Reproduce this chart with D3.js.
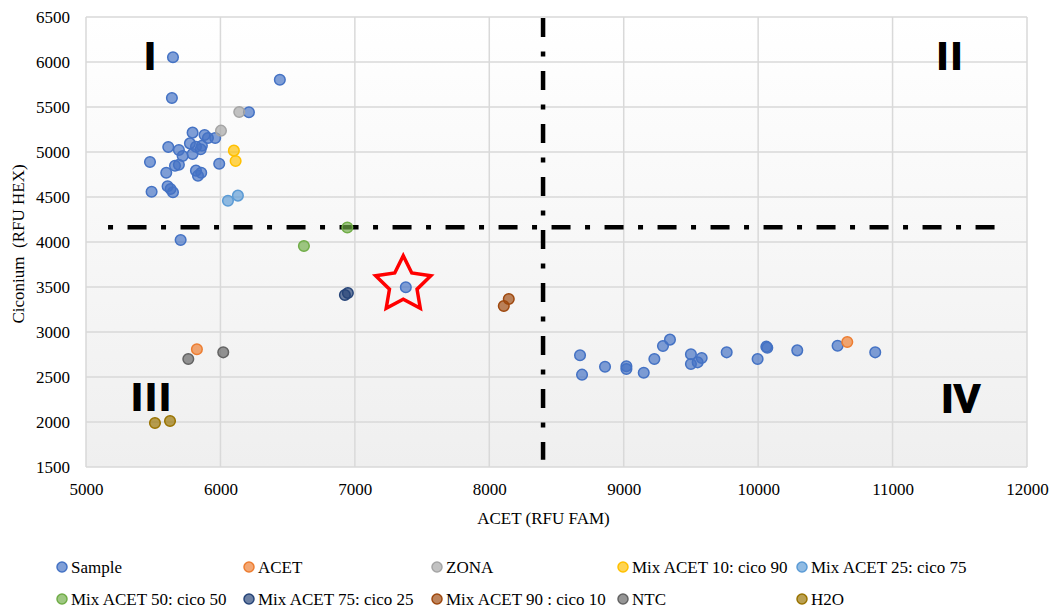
<!DOCTYPE html>
<html>
<head>
<meta charset="utf-8">
<script src="https://cdn.jsdelivr.net/npm/d3@7"></script>
<style>
  body { margin: 0; background: #fff; }
  .quad { font-family: "Liberation Sans", Arial, sans-serif; font-weight: bold; stroke: #000; stroke-width: 1.8; }
</style>
</head>
<body>
<div id="chart"></div>
<script>
// ---- data ----
var xTicks = [5000, 6000, 7000, 8000, 9000, 10000, 11000, 12000];
var yTicks = [1500, 2000, 2500, 3000, 3500, 4000, 4500, 5000, 5500, 6000, 6500];

var seriesNames = ["Sample", "ACET", "ZONA", "Mix ACET 10: cico 90", "Mix ACET 25: cico 75",
                   "Mix ACET 50: cico 50", "Mix ACET 75: cico 25", "Mix ACET 90 : cico 10", "NTC", "H2O"];

var samplePts = [
  [5647, 6052], [6442, 5803], [5639, 5600], [6212, 5441], [5793, 5215], [5882, 5189],
  [5907, 5156], [5961, 5156], [5612, 5056], [5773, 5096], [5818, 5059], [5862, 5070],
  [5853, 5030], [5691, 5022], [5719, 4956], [5793, 4978], [5476, 4889], [5991, 4870],
  [5691, 4859], [5662, 4848], [5597, 4770], [5818, 4793], [5857, 4770], [5833, 4737],
  [5488, 4559], [5607, 4619], [5629, 4589], [5647, 4552], [5704, 4022], [7379, 3497],
  [8675, 2741], [8690, 2526], [8861, 2614], [9020, 2619], [9020, 2589], [9149, 2548],
  [9228, 2700], [9292, 2844], [9344, 2915], [9500, 2752], [9500, 2644], [9550, 2663],
  [9580, 2711], [9766, 2774], [9996, 2700], [10061, 2837], [10068, 2826], [10291, 2796],
  [10591, 2848], [10871, 2774]
];
var acetPts   = [[5825, 2808], [10663, 2889]];
var zonaPts   = [[6140, 5444], [6004, 5237]];
var mix10Pts  = [[6100, 5015], [6113, 4900]];
var mix25Pts  = [[6056, 4459], [6130, 4515]];
var mix50Pts  = [[6621, 3956], [6944, 4161]];
var mix75Pts  = [[6926, 3411], [6948, 3433]];
var mix90Pts  = [[8108, 3289], [8145, 3367]];
var ntcPts    = [[5761, 2700], [6021, 2774]];
var h2oPts    = [[5513, 1989], [5625, 2011]];

// quadrant cut lines and labels
var cutX = 8400, cutY = 4163;
var quadLabels = [
  {t: "I",   x: 5491,  y: 5922},
  {t: "II",  x: 11439, y: 5922},
  {t: "III", x: 5498,  y: 2133},
  {t: "IV",  x: 11513, y: 2111}
];
var highlight = {x: 7360, y: 3525};

// excel palette
var colors = ["#4472c4", "#ed7d31", "#a5a5a5", "#ffc000", "#5b9bd5",
              "#70ad47", "#264478", "#9e480e", "#636363", "#997300"];

var allSeries = [samplePts, acetPts, zonaPts, mix10Pts, mix25Pts,
                 mix50Pts, mix75Pts, mix90Pts, ntcPts, h2oPts];

var serif = "'Liberation Serif', 'DejaVu Serif', 'Times New Roman', serif";

// ---- layout ----
var margin = {top: 17, right: 29, bottom: 143, left: 86};
var width = 1056 - margin.left - margin.right;
var height = 610 - margin.top - margin.bottom;

var svgRoot = d3.select("#chart").append("svg")
    .attr("width", 1056)
    .attr("height", 610);

var defs = svgRoot.append("defs");
var grad = defs.append("linearGradient")
    .attr("id", "bg").attr("x1", 0).attr("y1", 0).attr("x2", 0).attr("y2", 1);
grad.append("stop").attr("offset", "0%").attr("stop-color", "#ffffff");
grad.append("stop").attr("offset", "100%").attr("stop-color", "#efefef");

var svg = svgRoot.append("g")
    .attr("transform", "translate(" + margin.left + "," + margin.top + ")");

var x = d3.scaleLinear().domain([5000, 12000]).range([0, width]);
var y = d3.scaleLinear().domain([1500, 6500]).range([height, 0]);

// plot background
svg.append("rect")
    .attr("width", width)
    .attr("height", height)
    .attr("fill", "url(#bg)");

// gridlines
svg.append("g")
  .selectAll("line")
  .data(yTicks)
  .enter().append("line")
    .attr("x1", 0).attr("x2", width)
    .attr("y1", function(d) { return y(d); })
    .attr("y2", function(d) { return y(d); })
    .attr("stroke", "#d9d9d9")
    .attr("stroke-width", 1.5);

svg.append("g")
  .selectAll("line")
  .data(xTicks)
  .enter().append("line")
    .attr("y1", 0).attr("y2", height)
    .attr("x1", function(d) { return x(d); })
    .attr("x2", function(d) { return x(d); })
    .attr("stroke", "#d9d9d9")
    .attr("stroke-width", 1.5);

// axes (labels only)
var yAxis = svg.append("g")
    .call(d3.axisLeft(y).tickValues(yTicks).tickSize(0).tickPadding(16).tickFormat(d3.format("d")));
var xAxis = svg.append("g")
    .attr("transform", "translate(0," + height + ")")
    .call(d3.axisBottom(x).tickValues(xTicks).tickSize(0).tickPadding(16).tickFormat(d3.format("d")));

[xAxis, yAxis].forEach(function(a) {
  a.attr("font-family", serif);
  a.select(".domain").remove();
  a.selectAll("text")
    .style("font-family", serif)
    .attr("font-size", 17)
    .attr("fill", "#000");
});

svg.append("text")
    .attr("x", width / 2 - 13)
    .attr("y", height + 57)
    .attr("text-anchor", "middle")
    .style("font-family", serif)
    .attr("font-size", 17)
    .text("ACET (RFU FAM)");

svg.append("text")
    .attr("transform", "translate(" + (-62) + "," + (height / 2 + 2) + ") rotate(-90)")
    .attr("text-anchor", "middle")
    .style("font-family", serif)
    .attr("font-size", 17)
    .style("white-space", "pre")
    .text("Ciconium  (RFU HEX)");

// quadrant dash-dot lines
svg.append("line")
    .attr("x1", x(5164)).attr("x2", x(11766))
    .attr("y1", y(cutY)).attr("y2", y(cutY))
    .attr("stroke", "#000")
    .attr("stroke-width", 4.5)
    .attr("stroke-dasharray", "5,14.5,19,14.5");

svg.append("line")
    .attr("x1", x(cutX)).attr("x2", x(cutX))
    .attr("y1", y(6490)).attr("y2", y(1580))
    .attr("stroke", "#000")
    .attr("stroke-width", 4.5)
    .attr("stroke-dasharray", "19,14.5,5,14.5");

// quadrant labels
svg.selectAll(".quad")
  .data(quadLabels)
  .enter().append("text")
    .attr("class", "quad")
    .attr("x", function(d) { return x(d.x); })
    .attr("y", function(d) { return y(d.y); })
    .attr("text-anchor", "middle")
    .attr("font-size", function(d) { return d.t == "IV" ? 39 : 36; })
    .attr("letter-spacing", function(d) { return d.t == "IV" ? 1 : 4; })
    .text(function(d) { return d.t; });

// the star around the highlighted sample
var R = 29, r = 14.5;
var starPts = d3.range(10).map(function(i) {
  var a = -Math.PI / 2 + i * Math.PI / 5;
  var rad = i % 2 === 0 ? R : r;
  return [Math.cos(a) * rad, Math.sin(a) * rad];
});
svg.append("path")
    .attr("transform", "translate(" + x(highlight.x) + "," + y(highlight.y) + ")")
    .attr("d", d3.line()(starPts) + "Z")
    .attr("fill", "none")
    .attr("stroke", "#ff0000")
    .attr("stroke-width", 3.5)
    .attr("stroke-linejoin", "miter");

// scatter points, one group per series
allSeries.forEach(function(pts, i) {
  svg.append("g")
    .selectAll("circle")
    .data(pts)
    .enter().append("circle")
      .attr("cx", function(d) { return x(d[0]); })
      .attr("cy", function(d) { return y(d[1]); })
      .attr("r", 5.3)
      .attr("fill", colors[i])
      .attr("fill-opacity", 0.68)
      .attr("stroke", colors[i])
      .attr("stroke-width", 1.5);
});

// legend, two rows of five
var colX = [62, 249, 437, 623, 802];
var rowY = [567, 599];
var legend = svgRoot.append("g");
var items = legend.selectAll("g")
  .data(seriesNames)
  .enter().append("g")
    .attr("transform", function(d, i) {
      return "translate(" + colX[i % 5] + "," + rowY[Math.floor(i / 5)] + ")";
    });

items.append("circle")
    .attr("r", 5)
    .attr("fill", function(d, i) { return colors[i]; })
    .attr("fill-opacity", 0.68)
    .attr("stroke", function(d, i) { return colors[i]; })
    .attr("stroke-width", 1.5);

items.append("text")
    .attr("x", 9)
    .attr("y", 6)
    .style("font-family", serif)
    .attr("font-size", 17)
    .text(function(d) { return d; });
</script>
</body>
</html>
